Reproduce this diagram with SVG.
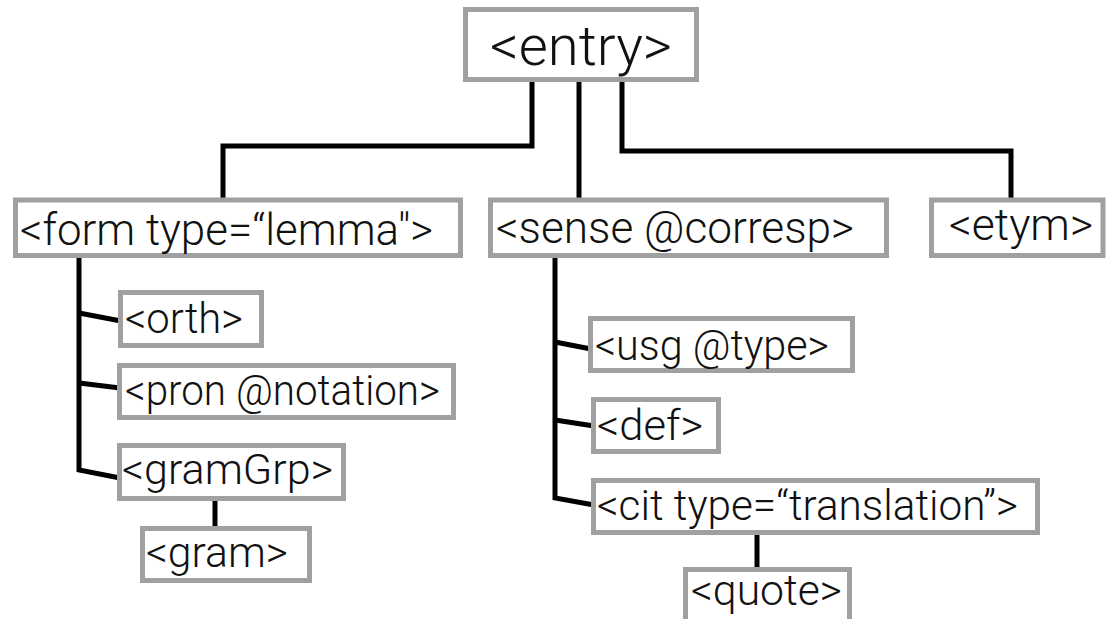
<svg xmlns="http://www.w3.org/2000/svg" width="1108" height="619" viewBox="0 0 1108 619">
<style>
.box{fill:#fff;stroke:#a0a0a0;stroke-width:5}
.lbl{font-family:Roboto,"Liberation Sans",Arial,sans-serif;font-weight:300;fill:#111;font-size:42px}
.l2{font-size:44px}
.top{font-size:56px}
.con{fill:none;stroke:#000;stroke-width:5;stroke-linejoin:miter}
</style>
<rect width="1108" height="619" fill="#fff"/>
<g id="connectors">
<path class="con" d="M532 80 V146 H223 V199"/>
<path class="con" d="M579 80 V199"/>
<path class="con" d="M622 80 V151 H1011 V199"/>
<path class="con" d="M79 256 V470 L120 478"/>
<path class="con" d="M79 313 L121 321"/>
<path class="con" d="M79 383 L120 388"/>
<path class="con" d="M215 499 V529"/>
<path class="con" d="M555 256 V498 L594 505"/>
<path class="con" d="M555 342 L591 349"/>
<path class="con" d="M555 420 L594 426"/>
<path class="con" d="M757 533 V570"/>
</g>
<g id="entry"><rect class="box" x="465.5" y="9.5" width="231" height="70"/><text class="lbl top" x="490" y="65" textLength="182" lengthAdjust="spacingAndGlyphs">&lt;entry&gt;</text></g>
<g id="form"><rect class="box" x="15.5" y="200" width="445" height="55.5"/><text class="lbl l2" x="20" y="245" textLength="413" lengthAdjust="spacingAndGlyphs">&lt;form type=“lemma"&gt;</text></g>
<g id="sense"><rect class="box" x="490.5" y="200" width="396" height="55.5"/><text class="lbl l2" x="496" y="243" textLength="358" lengthAdjust="spacingAndGlyphs">&lt;sense @corresp&gt;</text></g>
<g id="etym"><rect class="box" x="931.5" y="200" width="171.5" height="55.5"/><text class="lbl l2" x="949" y="240" textLength="144" lengthAdjust="spacingAndGlyphs">&lt;etym&gt;</text></g>
<g id="orth"><rect class="box" x="120.5" y="292.5" width="141" height="53"/><text class="lbl" x="125" y="333" textLength="118" lengthAdjust="spacingAndGlyphs">&lt;orth&gt;</text></g>
<g id="pron"><rect class="box" x="119.5" y="365.5" width="334" height="52"/><text class="lbl" x="125" y="405" textLength="315" lengthAdjust="spacingAndGlyphs">&lt;pron @notation&gt;</text></g>
<g id="gramGrp"><rect class="box" x="119.5" y="445.5" width="224" height="53"/><text class="lbl" x="122" y="484" textLength="211" lengthAdjust="spacingAndGlyphs">&lt;gramGrp&gt;</text></g>
<g id="gram"><rect class="box" x="142.5" y="528.5" width="167" height="52"/><text class="lbl" x="146" y="567" textLength="142" lengthAdjust="spacingAndGlyphs">&lt;gram&gt;</text></g>
<g id="usg"><rect class="box" x="590.5" y="318.5" width="262" height="52"/><text class="lbl" x="595" y="360" textLength="234" lengthAdjust="spacingAndGlyphs">&lt;usg @type&gt;</text></g>
<g id="def"><rect class="box" x="593.5" y="399.5" width="125" height="52"/><text class="lbl" x="597" y="440" textLength="106" lengthAdjust="spacingAndGlyphs">&lt;def&gt;</text></g>
<g id="cit"><rect class="box" x="593.5" y="480.5" width="444" height="52"/><text class="lbl" x="597" y="520" textLength="421" lengthAdjust="spacingAndGlyphs">&lt;cit type=“translation”&gt;</text></g>
<g id="quote"><rect class="box" x="685.5" y="569.5" width="164" height="60"/><text class="lbl" x="691" y="605" textLength="151" lengthAdjust="spacingAndGlyphs">&lt;quote&gt;</text></g>
</svg>
